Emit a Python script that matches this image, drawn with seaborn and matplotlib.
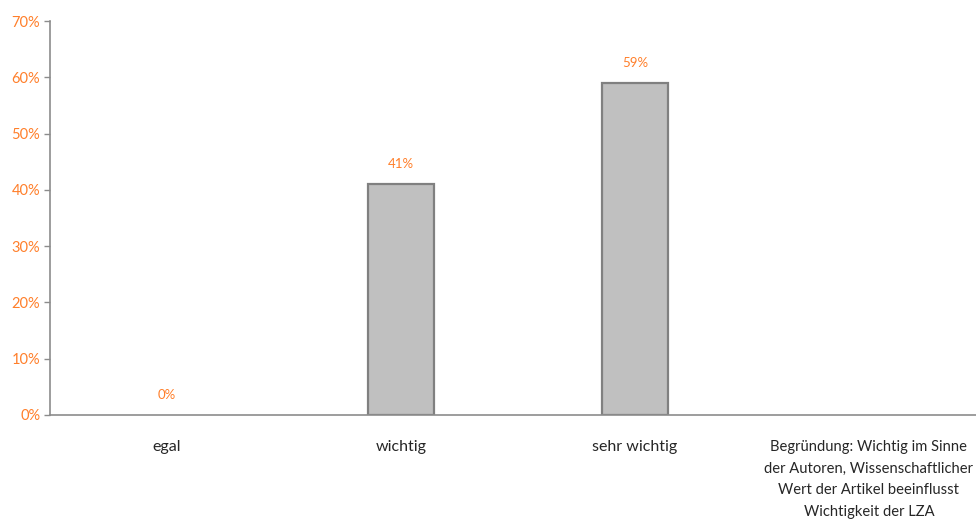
import matplotlib
matplotlib.use("Agg")
import matplotlib.pyplot as plt
import matplotlib.ticker as mticker
import numpy as np
import pandas as pd
import seaborn as sns

categories = [
    "egal",
    "wichtig",
    "sehr wichtig",
    "Begründung: Wichtig im Sinne\nder Autoren, Wissenschaftlicher\nWert der Artikel beeinflusst\nWichtigkeit der LZA",
]
shares = [0, 41, 59, np.nan]
bar_labels = ["0%", "41%", "59%", ""]
y_ticks = [0, 10, 20, 30, 40, 50, 60, 70]

ORANGE = "#FF7F2A"
GREY = "#8C8C8C"

sns.set_style("white")
plt.rcParams["font.family"] = ["Lato", "DejaVu Sans"]

df = pd.DataFrame({"category": categories, "share": shares})

fig = plt.figure(figsize=(9.76, 5.28), dpi=100)
ax = fig.add_axes([50 / 976, 113 / 528, 936 / 976, 394 / 528])

sns.barplot(
    data=df, x="category", y="share", order=categories,
    color="#C0C0C0", edgecolor="#808080", linewidth=1.6,
    width=0.285, saturation=1, ax=ax,
)
# zero-height bars leave no visible outline
for p in ax.patches:
    if not p.get_height():
        p.set_linewidth(0)

for i, (v, lab) in enumerate(zip(shares, bar_labels)):
    if lab:
        ax.annotate(lab, (i, v), xytext=(0, 10), textcoords="offset points",
                    ha="center", va="bottom", fontsize=9.5, color=ORANGE)

ax.set_ylim(0, 70)
ax.set_xlim(-0.5, len(categories) - 0.5)
ax.set_yticks(y_ticks)
ax.yaxis.set_major_formatter(mticker.FuncFormatter(lambda v, p: f"{int(v)}%"))
ax.tick_params(axis="y", labelsize=10.5, labelcolor=ORANGE, color=GREY,
               length=4, width=1, left=True, direction="out", pad=3)
ax.tick_params(axis="x", length=0, labelsize=11.5, pad=18)
for lab in ax.get_xticklabels():
    lab.set_linespacing(1.7)
    lab.set_verticalalignment("top")
# the long comment label has to stay inside the figure edge
ax.get_xticklabels()[-1].set_fontsize(10.6)

ax.set_xlabel("")
ax.set_ylabel("")
sns.despine(ax=ax, top=True, right=True)
ax.spines["left"].set_color(GREY)
ax.spines["bottom"].set_color(GREY)
ax.spines["left"].set_linewidth(1.2)
ax.spines["bottom"].set_linewidth(1.2)

fig.savefig("out.png", dpi=100)
